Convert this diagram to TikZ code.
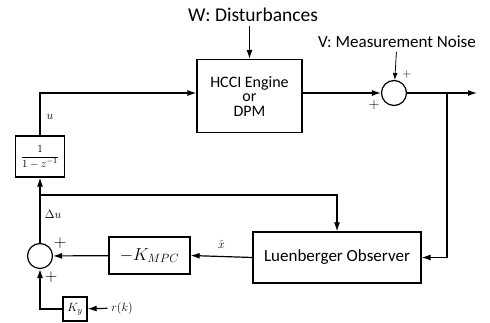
\documentclass[tikz,border=0pt]{standalone}
\usepackage{amsmath}
\usepackage{fontspec}
\setmainfont{Carlito}
\usetikzlibrary{positioning,arrows.meta}

\begin{document}
\begin{tikzpicture}[x=1pt,y=-1pt,>={Latex[length=9pt,width=6pt]},line width=1.2pt,
        block/.style={draw,line width=1.2pt,inner sep=0pt},
        sumnode/.style={draw,circle,line width=1.2pt,minimum size=25pt,inner sep=0pt},
        lbl/.style={font=\fontsize{17}{18}\selectfont},
        sgn/.style={inner sep=0pt,font=\fontsize{17}{18}\selectfont}]
        \useasboundingbox (0,0) rectangle (490,323);
        % plant and output
        \node[block,minimum width=105pt,minimum height=73pt,align=center,
              font=\fontsize{16}{14.5}\selectfont] (hcci) at (249.5,96) {HCCI Engine\\or\\DPM};
        \node[font=\fontsize{19.5}{20}\selectfont] (dist) at (253,15) {W: Disturbances};
        \node[sumnode] (sumy) at (394,93) {};
        \node[lbl] (noise) at (397,42) {V: Measurement Noise};
        \coordinate (out) at (477,93);
        \coordinate (tap) at (447,93);
        \node[sgn,font=\fontsize{13}{14}\selectfont] (py1) at (407,75) {$+$};
        \node[sgn,font=\fontsize{15}{16}\selectfont] (py2) at (374,105) {$+$};
        % observer and feedback
        \node[block,minimum width=168pt,minimum height=51pt,lbl] (obs) at (337,257.5) {Luenberger Observer};
        \node[block,minimum width=81pt,minimum height=37pt,font=\fontsize{17}{19}\selectfont] (kmpc) at (149.5,255.5) {$-K_{MPC}$};
        \node[sumnode] (sumu) at (40,256) {};
        \node[sgn] (pu1) at (60,243) {$+$};
        \node[sgn] (pu2) at (51,277) {$+$};
        \node[block,minimum width=49pt,minimum height=41pt,font=\fontsize{11}{12}\selectfont] (integ) at (40,156.5) {$\dfrac{1}{1-z^{-1}}$};
        \node[block,minimum size=24pt,font=\fontsize{13}{14}\selectfont] (ky) at (75,309) {$K_y$};
        \node[font=\fontsize{13}{14}\selectfont] (ref) at (122,308) {$r(k)$};
        \node[font=\fontsize{13}{14}\selectfont] (ulbl) at (50,117) {$u$};
        \node[font=\fontsize{13}{14}\selectfont] (dulbl) at (53,214) {$\Delta u$};
        \coordinate (branch) at (40,195);

        \draw[->] (hcci.north |- dist.south) -- (hcci.north);
        \draw[->] (integ.north) |- (hcci.west |- sumy);
        \draw[->] (hcci.east |- sumy) -- (sumy);
        \draw[->] (sumy) -- (out);
        \draw[->,line width=0.8pt,>={Latex[length=7pt,width=5pt]}] (noise) -- (sumy);
        \draw[->] (tap) |- (obs.east);
        \draw[->] (obs.west) -- node[above=4pt,font=\fontsize{12}{13}\selectfont] (xhat) {$\hat{x}$} (kmpc.east);
        \draw[->] (kmpc) -- (sumu);
        \draw[->] (sumu) -- (integ);
        \draw[->] (branch) -| (obs.north);
        \draw[->] (ref) -- (ky);
        \draw[->] (ky.west) -| (sumu.south);
\end{tikzpicture}
\end{document}
